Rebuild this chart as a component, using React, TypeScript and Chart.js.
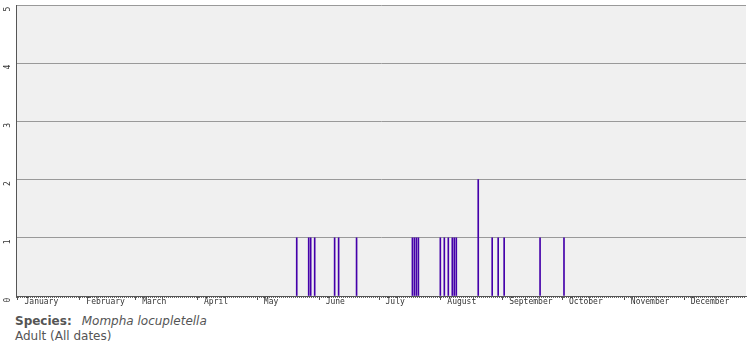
import React, { useEffect, useRef } from "react";
import { Chart, registerables } from "chart.js";

Chart.register(...registerables);

// Month names and their first day (0-based day of year)
const monthNames = ["January", "February", "March", "April", "May", "June", "July", "August", "September", "October", "November", "December"];
const monthStarts = [0, 31, 59, 90, 120, 151, 181, 212, 243, 273, 304, 334];

// Records: day of year (0 = 1 January) and count
const recordDays = [140, 146, 147, 149, 159, 161, 170, 198, 199, 200, 201, 212, 214, 216, 218, 219, 220, 231, 238, 241, 244, 262, 274];
const recordCounts = [1, 1, 1, 1, 1, 1, 1, 1, 1, 1, 1, 1, 1, 1, 1, 1, 1, 2, 1, 1, 1, 1, 1];

const yTicks = [0, 1, 2, 3, 4, 5];

const AXIS_FONT = "8px 'DejaVu Sans Mono'";

const decorPlugin = {
  id: "decor",
  beforeDraw(chart: any) {
    const { ctx, chartArea } = chart;
    ctx.save();
    ctx.fillStyle = "#f0f0f0";
    ctx.fillRect(chartArea.left, chartArea.top, chartArea.right - chartArea.left, chartArea.bottom - chartArea.top);
    ctx.restore();
  },
  afterDraw(chart: any) {
    const { ctx, chartArea } = chart;
    const xs = chart.scales.x;
    const ys = chart.scales.y;
    ctx.save();
    // month ticks
    ctx.strokeStyle = "#555";
    ctx.lineWidth = 1;
    monthStarts.forEach((m) => {
      const px = Math.round(xs.getPixelForValue(m)) + 0.5;
      ctx.beginPath();
      ctx.moveTo(px, chartArea.bottom);
      ctx.lineTo(px, chartArea.bottom + 4);
      ctx.stroke();
    });
    // rotated y labels
    ctx.fillStyle = "#333";
    ctx.font = AXIS_FONT;
    ctx.textAlign = "center";
    ctx.textBaseline = "middle";
    yTicks.forEach((v) => {
      const py = ys.getPixelForValue(v) + 4;
      ctx.save();
      ctx.translate(8, py);
      ctx.rotate(-Math.PI / 2);
      ctx.fillText(String(v), 0, 0);
      ctx.restore();
    });
    ctx.restore();
  },
};

function ChartView() {
  const ref = useRef<HTMLCanvasElement | null>(null);
  useEffect(() => {
    if (!ref.current) return;
    const data = recordDays.map((d, i) => ({ x: d, y: recordCounts[i] }));
    const chart = new Chart(ref.current, {
      type: "bar",
      data: {
        datasets: [
          {
            data,
            backgroundColor: "#4400aa",
            borderWidth: 0,
            barThickness: 1,
            grouped: false,
          } as any,
        ],
      },
      options: {
        animation: false,
        responsive: false,
        maintainAspectRatio: false,
        layout: { padding: { top: 5, right: 9, bottom: 0, left: 0 } },
        plugins: { legend: { display: false }, tooltip: { enabled: false } },
        scales: {
          x: {
            type: "linear",
            min: -0.25,
            max: 364.75,
            afterFit: (s: any) => {
              s.height = 14;
            },
            afterBuildTicks: (s: any) => {
              const t: any[] = [];
              for (let d = 0; d < 365; d++) t.push({ value: d });
              s.ticks = t;
            },
            grid: {
              drawOnChartArea: false,
              tickLength: 2,
              tickColor: "#666",
              tickWidth: 1,
            },
            border: { color: "#555", width: 1 },
            ticks: {
              autoSkip: false,
              maxRotation: 0,
              minRotation: 0,
              align: "start",
              labelOffset: 7,
              padding: -1,
              color: "#333",
              font: { family: "DejaVu Sans Mono", size: 8 },
              callback: (v: any) => {
                const i = monthStarts.indexOf(Number(v));
                return i >= 0 ? monthNames[i] : "";
              },
            },
          },
          y: {
            min: 0,
            max: 5,
            afterFit: (s: any) => {
              s.width = 16;
            },
            afterBuildTicks: (s: any) => {
              s.ticks = yTicks.map((v) => ({ value: v }));
            },
            grid: { color: "#999", lineWidth: 1, drawTicks: false },
            border: { color: "#555", width: 1 },
            ticks: { display: false },
          },
        },
      },
      plugins: [decorPlugin],
    });
    return () => chart.destroy();
  }, []);
  return <canvas ref={ref} width={755} height={310} style={{ display: "block", width: 755, height: 310 }} />;
}

export default function App() {
  return (
    <div style={{ position: "absolute", left: 0, top: 0, width: 755, height: 350, background: "#fff" }}>
      <ChartView />
      <div
        style={{
          position: "absolute",
          left: 15,
          top: 314,
          fontFamily: "'DejaVu Sans', Verdana, sans-serif",
          fontSize: 12,
          lineHeight: "15px",
          color: "#555",
        }}
      >
        <div>
          <b>Species:</b>
          <i style={{ marginLeft: 10 }}>Mompha locupletella</i>
        </div>
        <div>Adult (All dates)</div>
      </div>
    </div>
  );
}
